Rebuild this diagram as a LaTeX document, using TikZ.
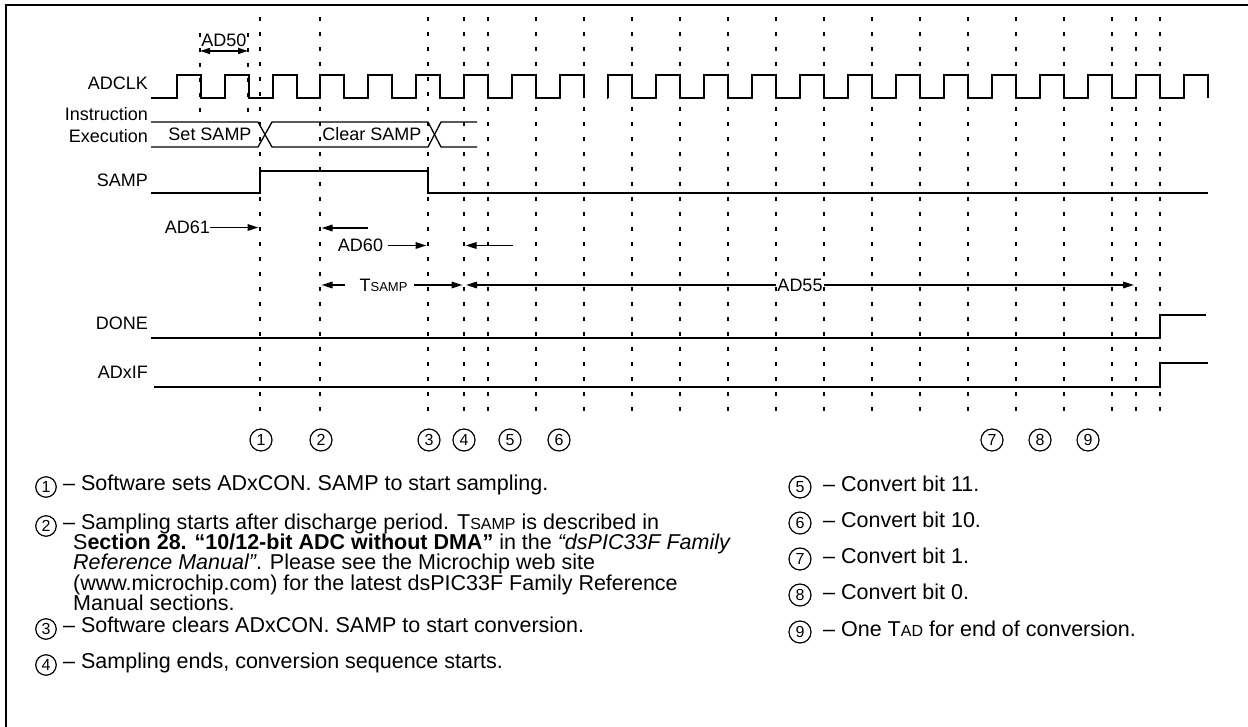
\documentclass[tikz,border=0pt]{standalone}
\usepackage{fontspec}
\setmainfont{Liberation Sans}
\usetikzlibrary{arrows.meta, positioning, calc}

\newcommand{\sigfont}{\fontsize{18}{18}\selectfont}
\newcommand{\notefont}{\fontsize{21.5}{20.4}\selectfont}
\newcommand{\smallcap}[2]{{\fontsize{#1}{#1}\selectfont #2}}

\tikzset{
  sig/.style={line width=2pt},
  bus/.style={line width=1.3pt},
  tick/.style={line width=1.8pt, dash pattern=on 4pt off 11pt},
  arr/.style={line width=1.6pt, -{Triangle[length=11pt,width=6.5pt]}, shorten >=1.5pt},
  lbl/.style={font=\sigfont, inner sep=0pt},
  num/.style={circle, draw, line width=1.2pt, inner sep=0pt, minimum size=22pt,
              font=\fontsize{16}{16}\selectfont},
  note/.style={font=\notefont, inner sep=0pt, anchor=base west}
}

\begin{document}
\begin{tikzpicture}[x=1pt, y=-1pt]
    \useasboundingbox (0,0) rectangle (1248,727);
    \draw[line width=2pt] (6,727) -- (6,5) -- (1248,5);

    % time marks
    \coordinate (tc1) at (200,0);
    \coordinate (tc2) at (248,0);
    \coordinate (tset) at (260,0);
    \coordinate (tsmp) at (320,0);
    \coordinate (tclr) at (428,0);
    \coordinate (tcnv) at (464,0);
    \coordinate (teoc) at (1136,0);
    \foreach \x in {260,320,428,464,488,536,584,632,680,728,776,824,872,920,968,1016,1064,1112,1136,1160}
        \draw[tick] (\x,17) -- (\x,412);
    \foreach \x in {200,248}
        \draw[tick] (\x,33) -- (\x,112);

    % signal names
    \node[lbl, anchor=base east] (adclk) at (148,90) {ADCLK};
    \node[lbl, anchor=base east] (instr) at (148,121) {Instruction};
    \node[lbl, anchor=base east] (exec) at (148,143) {Execution};
    \node[lbl, anchor=base east] (samp) at (148,187) {SAMP};
    \node[lbl, anchor=base east] (done) at (148,330) {DONE};
    \node[lbl, anchor=base east] (adxif) at (148,378) {ADxIF};

    % ADCLK
    \draw[sig] (151,98) \foreach \k in {0,...,8} {
        -- ({176.6+47.95*\k},98) -- ({176.6+47.95*\k},75)
        -- ({200.6+47.95*\k},75) -- ({200.6+47.95*\k},98) };
    \draw[sig] (608.15,98) \foreach \k in {9,...,21} {
        -- ({176.6+47.95*\k},98) -- ({176.6+47.95*\k},75)
        -- ({200.6+47.95*\k},75) -- ({200.6+47.95*\k},98) };

    % instruction execution
    \draw[bus] (151,122) -- (258,122) -- (272,147) -- (428,147) -- (441,122) -- (477,122);
    \draw[bus] (151,147) -- (258,147) -- (272,122) -- (428,122) -- (441,147) -- (477,147);
    \node[lbl, anchor=base] (setsamp) at (210,141) {Set SAMP};
    \node[lbl, anchor=base] (clrsamp) at (372,141) {Clear SAMP};

    % SAMP, DONE, ADxIF
    \draw[sig] (151,193) -- (260,193) -- (260,171) -- (428,171) -- (428,193) -- (1208,193);
    \draw[sig] (151,338) -- (1160,338) -- (1160,315) -- (1206,315);
    \draw[sig] (154,387) -- (1160,387) -- (1160,363) -- (1208,363);

    % timing parameters
    \node[lbl, anchor=base] (ad50) at (224,47) {AD50};
    \draw[line width=1.6pt, {Triangle[length=10pt,width=6pt]}-{Triangle[length=10pt,width=6pt]}]
        (tc1 |- 0,51) -- (tc2 |- 0,51);

    \node[lbl, anchor=east] (ad61) at (210,227.5) {AD61};
    \draw[arr] (ad61.east) -- (ad61.east -| tset);

    \coordinate (ad60a) at (368,228);
    \draw[arr] (ad60a) -- (ad60a -| tsmp);
    \node[lbl, inner xsep=5pt] (ad60) at (360.5,245.5) {AD60};
    \draw[arr] (ad60.east) -- (ad60.east -| tclr);
    \coordinate (ad60b) at (513,245.5);
    \draw[arr] (ad60b) -- (ad60b -| tcnv);

    \node[lbl] (tsampl) at (383.5,285) {T\smallcap{13}{SAMP}};
    \draw[arr] ([xshift=-14pt]tsampl.west) -- (tsampl.west -| tsmp);
    \draw[arr] ([xshift=6pt]tsampl.east) -- (tsampl.east -| tcnv);
    \node[lbl, inner xsep=1pt] (ad55) at (800,285) {AD55};
    \draw[arr, shorten >=2pt] (ad55.west) -- (ad55.west -| tcnv);
    \draw[arr, shorten >=2pt] (ad55.east) -- (ad55.east -| teoc);

    % event markers
    \foreach \n/\x in {1/261,2/321,3/429,4/464,5/510,6/559,7/992,8/1040,9/1088}
        \node[num] (c\n) at (\x,440) {\n};

    % notes
    \foreach \n/\y in {1/490,2/529,3/632,4/668}
        \node[num, minimum size=20.5pt] (k\n) at (46,\y-3) {\n};
    \node[note] (d1) at (63,490) {– Software sets ADxCON. SAMP to start sampling.};
    \node[note] (d2) at (63,529) {\parbox[t]{700pt}{– Sampling starts after discharge period. T\smallcap{16}{SAMP} is described in\\
        \hspace*{10pt}S\textbf{ection 28. “10/12-bit ADC without DMA”} in the \textit{“dsPIC33F Family}\\
        \hspace*{10pt}\textit{Reference Manual”}. Please see the Microchip web site\\
        \hspace*{10pt}(www.microchip.com) for the latest dsPIC33F Family Reference\\
        \hspace*{10pt}Manual sections.}};
    \node[note] (d3) at (63,632) {– Software clears ADxCON. SAMP to start conversion.};
    \node[note] (d4) at (63,668) {– Sampling ends, conversion sequence starts.};

    \foreach \n/\y/\t in {5/491/{Convert bit 11.}, 6/527/{Convert bit 10.}, 7/563/{Convert bit 1.},
                          8/599/{Convert bit 0.}, 9/636/{One T\smallcap{16}{AD} for end of conversion.}} {
        \node[num] (k\n) at (800,\y-4) {\n};
        \node[note] (d\n) at (823,\y) {– \t};
    }
\end{tikzpicture}
\end{document}
